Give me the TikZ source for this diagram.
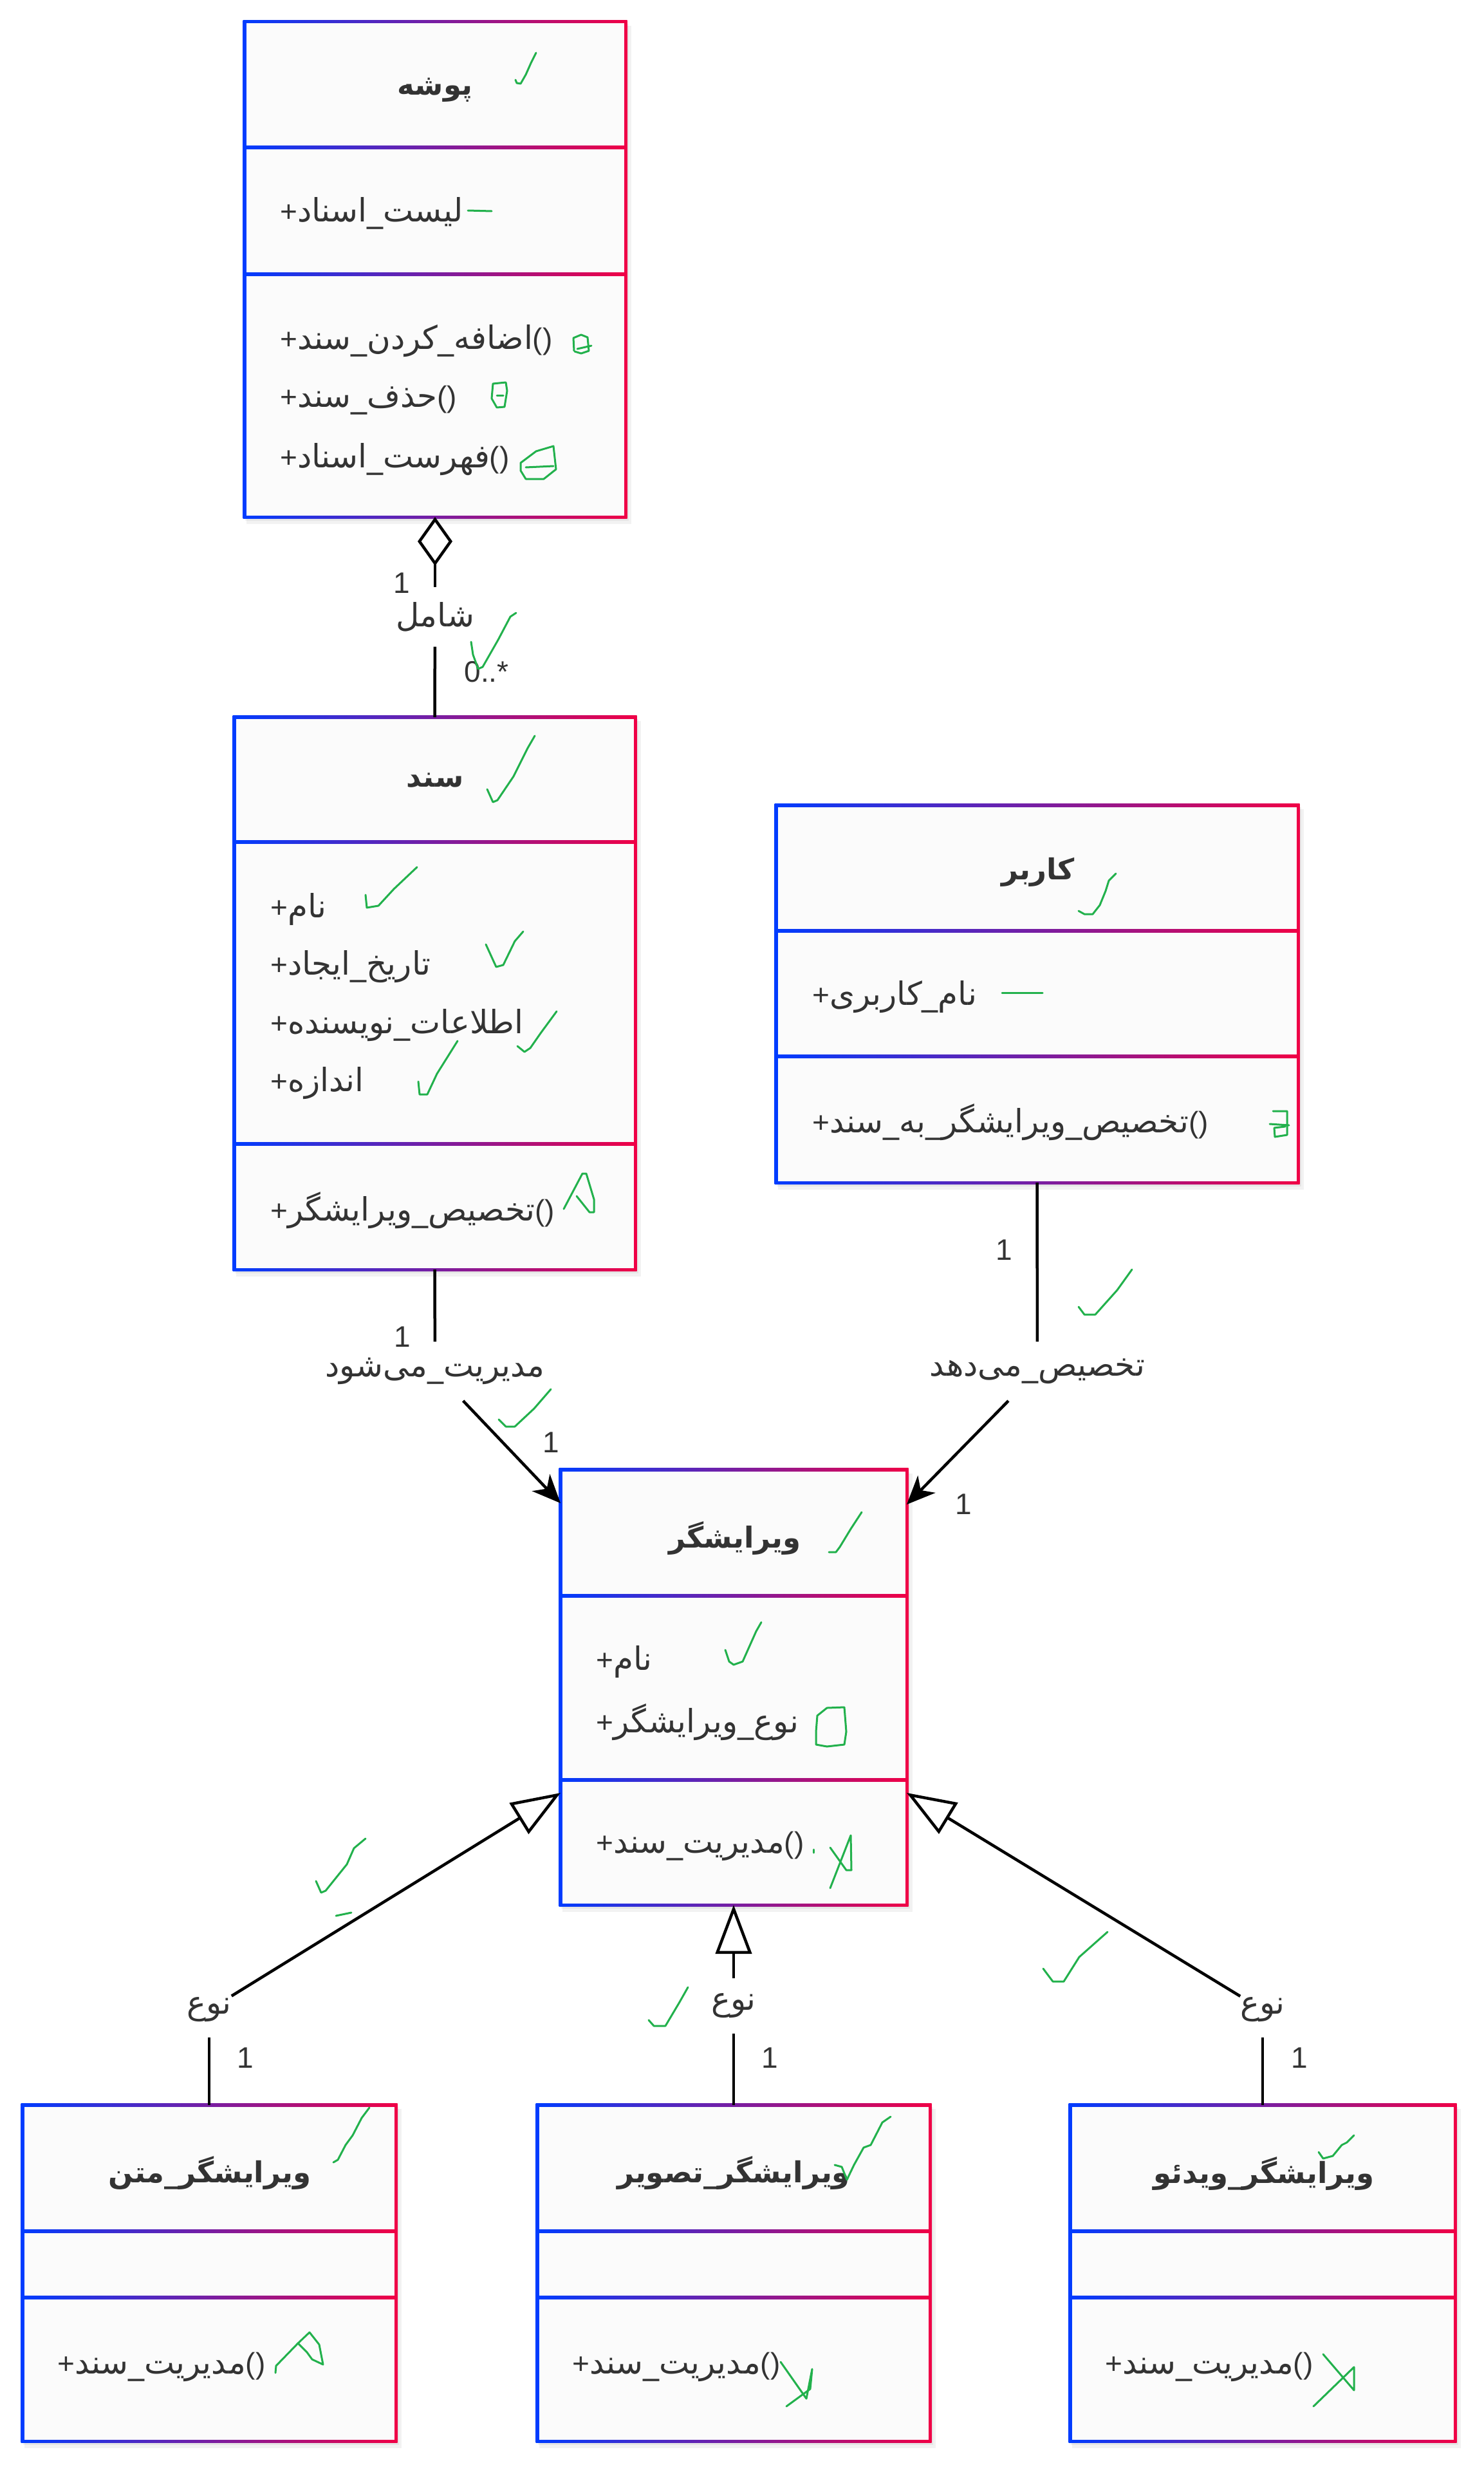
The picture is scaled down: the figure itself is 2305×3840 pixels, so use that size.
\documentclass[tikz,border=0pt]{standalone}
\usepackage{fontspec}
\usetikzlibrary{arrows.meta,fit}
\TeXXeTstate=1
\setmainfont{Liberation Sans}
\newfontfamily\fa[Script=Arabic]{DejaVu Sans}
\definecolor{ublue}{RGB}{0,60,255}
\definecolor{ured}{RGB}{240,0,70}
\definecolor{txt}{RGB}{51,51,51}
\definecolor{chk}{RGB}{34,177,76}
\definecolor{boxfill}{RGB}{251,251,251}
\newcommand\RL[1]{{\fa\fontsize{50}{58}\selectfont\beginR #1\endR}}
\newcommand\RB[1]{{\fa\bfseries\fontsize{45}{54}\selectfont\beginR #1\endR}}
\newcommand\umlbox[7]{%
  \fill[black,opacity=0.05] (#2+3,#3+6) rectangle (#4+9,#5+11);
  \fill[black,opacity=0.05] (#2+1,#3+3) rectangle (#4+5,#5+6);
  \shade[left color=ublue,right color=ured] (#2-2.5,#3-2.5) rectangle (#4+2.5,#5+2.5);
  \fill[boxfill] (#2+2.5,#3+2.5) rectangle (#4-2.5,#5-2.5);
  \shade[left color=ublue,right color=ured] (#2,#6-2.5) rectangle (#4,#6+2.5);
  \shade[left color=ublue,right color=ured] (#2,#7-2.5) rectangle (#4,#7+2.5);
  \node[inner sep=0pt,outer sep=0pt,fit={(#2,#3) (#4,#5)}] (#1) {};
}
\tikzset{
  row/.style={anchor=west,inner sep=0pt,text=txt,font=\fontsize{46}{55}\selectfont},
  ttl/.style={inner sep=0pt,text=txt,font=\fontsize{46}{55}\selectfont},
  num/.style={inner sep=0pt,text=txt,font=\fontsize{46}{55}\selectfont},
  lbl/.style={fill=white,inner sep=0pt,outer sep=0pt,minimum height=92pt,text=txt,font=\fontsize{46}{55}\selectfont},
  conn/.style={line width=4.5pt,black},
  gen/.style={conn,-{Triangle[open,length=76pt,width=56pt]}},
  agg/.style={conn,-{Diamond[open,length=76pt,width=54pt]}},
  assoc/.style={conn,-{Stealth[length=44pt,width=38pt,inset=13pt]}},
  chkline/.style={chk,line width=3pt,line join=round,line cap=round}
}
\begin{document}
\begin{tikzpicture}[x=1pt,y=-1pt]
\fill[white] (0,0) rectangle (2305,3840);
\useasboundingbox (0,0) rectangle (2305,3840);

% boxes
\umlbox{pushe}{380}{34}{972}{803}{229}{426}
\umlbox{sanad}{364}{1114}{987}{1972}{1308}{1777}
\umlbox{karbar}{1206}{1251}{2017}{1837}{1446}{1641}
\umlbox{vir}{871}{2283}{1409}{2959}{2479}{2765}
\umlbox{matn}{35}{3270}{615}{3792}{3466}{3569}
\umlbox{tasvir}{835}{3270}{1445}{3792}{3466}{3569}
\umlbox{video}{1663}{3270}{2261}{3792}{3466}{3569}

% pushe
\node[ttl] (p0) at (676,140) {\RB{پوشه}};
\node[row] (p1) at (435,331) {+\RL{لیست\_اسناد}};
\node[row] (p2) at (435,530) {+\RL{اضافه\_کردن\_سند}()};
\node[row] (p3) at (435,622) {+\RL{حذف\_سند}()};
\node[row] (p4) at (435,714) {+\RL{فهرست\_اسناد}()};

% sanad
\node[ttl] (s0) at (676,1212) {\RB{سند}};
\node[row] (s1) at (420,1412) {+\RL{نام}};
\node[row] (s2) at (420,1502) {+\RL{تاریخ\_ایجاد}};
\node[row] (s3) at (420,1593) {+\RL{اطلاعات\_نویسنده}};
\node[row] (s4) at (420,1683) {+\RL{اندازه}};
\node[row] (s5) at (420,1880) {+\RL{تخصیص\_ویرایشگر}()};

% karbar
\node[ttl] (k0) at (1613,1355) {\RB{کاربر}};
\node[row] (k1) at (1262,1549) {+\RL{نام\_کاربری}};
\node[row] (k2) at (1262,1743) {+\RL{تخصیص\_ویرایشگر\_به\_سند}()};

% virayeshgar
\node[ttl] (v0) at (1142,2389) {\RB{ویرایشگر}};
\node[row] (v1) at (926,2581) {+\RL{نام}};
\node[row] (v2) at (926,2675) {+\RL{نوع\_ویرایشگر}};
\node[row] (v3) at (926,2868) {+\RL{مدیریت\_سند}()};

% bottom
\node[ttl] (m0) at (326,3375) {\RB{ویرایشگر\_متن}};
\node[row] (m1) at (89,3677) {+\RL{مدیریت\_سند}()};
\node[ttl] (t0) at (1140,3375) {\RB{ویرایشگر\_تصویر}};
\node[row] (t1) at (889,3677) {+\RL{مدیریت\_سند}()};
\node[ttl] (w0) at (1964,3376) {\RB{ویرایشگر\_ویدئو}};
\node[row] (w1) at (1717,3677) {+\RL{مدیریت\_سند}()};

% aggregation
\node[lbl,minimum height=93pt] (lS) at (676,958) {\RL{شامل}};
\draw[agg] (lS) -- (pushe.south);
\draw[conn] (lS) -- (sanad.north);
\node[num] (nS1) at (624,906) {1};
\node[num] (nS2) at (756,1044) {0..*};

% associations
\node[lbl] (lM) at (676,2130) {\RL{مدیریت\_می^^^^200cشود}};
\draw[conn] (sanad.south) -- (lM);
\draw[assoc] (lM) -- ([yshift=-52pt]vir.north west);
\node[num] (nM1) at (625,2077) {1};
\node[num] (nM2) at (856,2241) {1};

\node[lbl] (lT) at (1612,2130) {\RL{تخصیص\_می^^^^200cدهد}};
\draw[conn] (karbar.south) -- (lT);
\draw[assoc] (lT) -- ([yshift=-54pt]vir.north east);
\node[num] (nT1) at (1560,1942) {1};
\node[num] (nT2) at (1497,2337) {1};

% generalizations
\node[lbl,minimum height=86pt] (g1) at (325,3122) {\RL{نوع}};
\node[lbl,minimum height=86pt] (g2) at (1140,3116) {\RL{نوع}};
\node[lbl,minimum height=86pt] (g3) at (1962,3122) {\RL{نوع}};
\draw[gen] (g1) -- ([yshift=174pt]vir.south west);
\draw[conn] (matn.north) -- (g1);
\draw[gen] (g2) -- (vir.south);
\draw[conn] (tasvir.north) -- (g2);
\draw[gen] (g3) -- ([yshift=174pt]vir.south east);
\draw[conn] (video.north) -- (g3);
\node[num] (ng1) at (381,3197) {1};
\node[num] (ng2) at (1196,3197) {1};
\node[num] (ng3) at (2019,3197) {1};

% green hand marks
\draw[chkline] (801,124) -- (803,129) -- (809,130) -- (817,116) -- (825,98) -- (833,82);
\draw[chkline] (727,327) -- (764,328);
\draw[chkline] (892,545) -- (891,525) -- (903,520) -- (913,524) -- (915,545) -- (903,549) -- (893,546);
\draw[chkline] (897,542) -- (919,537);
\draw[chkline] (766,596) -- (786,594) -- (788,607) -- (784,632) -- (772,633) -- (764,619) -- cycle;
\draw[chkline] (772,614) -- (782,614);
\draw[chkline] (809,719) -- (833,701) -- (860,693) -- (864,729) -- (845,744) -- (817,744) -- (809,731) -- cycle;
\draw[chkline] (817,726) -- (860,724);
\draw[chkline] (732,997) -- (735,1017) -- (743,1039) -- (750,1036) -- (774,994) -- (793,958) -- (802,952);
\draw[chkline] (757,1226) -- (766,1246) -- (773,1243) -- (798,1206) -- (820,1162) -- (831,1143);
\draw[chkline] (568,1390) -- (570,1410) -- (588,1407) -- (612,1381) -- (648,1347);
\draw[chkline] (755,1467) -- (771,1502) -- (782,1499) -- (800,1462) -- (813,1447);
\draw[chkline] (804,1625) -- (815,1634) -- (824,1628) -- (840,1605) -- (865,1571);
\draw[chkline] (650,1680) -- (652,1700) -- (664,1700) -- (679,1668) -- (711,1617);
\draw[chkline] (876,1878) -- (905,1823) -- (911,1823) -- (923,1863) -- (923,1883) -- (916,1883) -- (896,1858);
\draw[chkline] (1676,1415) -- (1685,1420) -- (1698,1420) -- (1709,1406) -- (1718,1384) -- (1723,1368) -- (1734,1357);
\draw[chkline] (1557,1542) -- (1620,1542);
\draw[chkline] (1978,1726) -- (2000,1726) -- (2000,1763) -- (1981,1766) -- (1980,1752) -- (1997,1750);
\draw[chkline] (1973,1746) -- (2003,1748);
\draw[chkline] (1676,2030) -- (1685,2042) -- (1702,2042) -- (1736,2004) -- (1759,1972);
\draw[chkline] (775,2205) -- (786,2216) -- (800,2216) -- (830,2188) -- (856,2158);
\draw[chkline] (1288,2411) -- (1299,2411) -- (1305,2403) -- (1322,2375) -- (1339,2349);
\draw[chkline] (1127,2563) -- (1133,2581) -- (1140,2586) -- (1154,2581) -- (1175,2534) -- (1183,2520);
\draw[chkline] (1270,2665) -- (1285,2653) -- (1312,2652) -- (1315,2690) -- (1312,2710) -- (1285,2713) -- (1268,2710) -- (1268,2690) -- cycle;
\draw[chkline] (1290,2933) -- (1322,2851) -- (1323,2905) -- (1315,2905) -- (1290,2870);
\draw[chkline] (1264,2873) -- (1264,2878);
\draw[chkline] (491,2922) -- (499,2940) -- (506,2937) -- (539,2896) -- (550,2871) -- (568,2856);
\draw[chkline] (522,2976) -- (546,2971);
\draw[chkline] (1008,3138) -- (1016,3147) -- (1034,3147) -- (1056,3110) -- (1069,3087);
\draw[chkline] (1621,3058) -- (1636,3078) -- (1653,3078) -- (1677,3040) -- (1721,3001);
\draw[chkline] (518,3359) -- (525,3355) -- (537,3332) -- (548,3317) -- (562,3290) -- (574,3274);
\draw[chkline] (428,3686) -- (429,3675) -- (463,3640) -- (481,3623) -- (496,3642) -- (502,3673) -- (485,3665) -- (477,3654) -- (463,3640);
\draw[chkline] (1297,3363) -- (1308,3366) -- (1316,3386) -- (1327,3363) -- (1342,3336) -- (1353,3332) -- (1371,3297) -- (1384,3288);
\draw[chkline] (1213,3669) -- (1253,3726) -- (1262,3680) -- (1259,3711) -- (1222,3738);
\draw[chkline] (2049,3343) -- (2056,3353) -- (2071,3349) -- (2085,3332) -- (2093,3328) -- (2104,3317);
\draw[chkline] (2041,3738) -- (2104,3677) -- (2104,3713) -- (2056,3657);
\end{tikzpicture}
\end{document}
